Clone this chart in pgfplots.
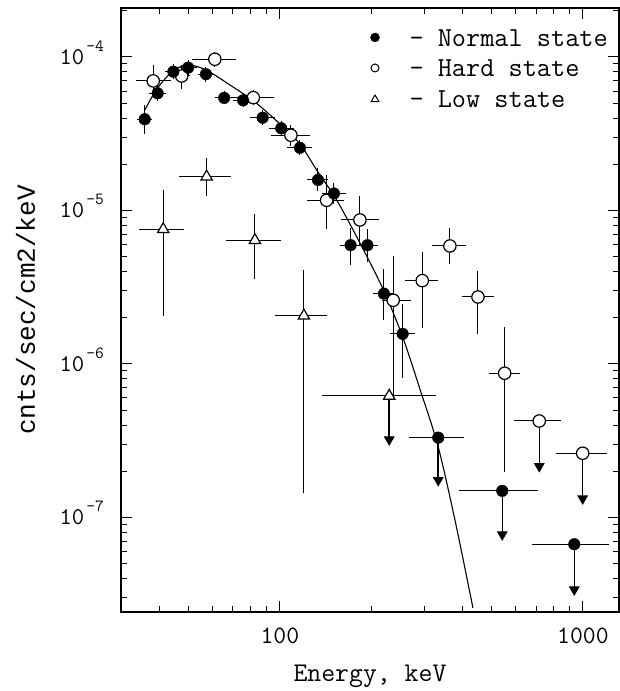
\documentclass[border=0pt]{standalone}
\usepackage{fontspec}
\usepackage{pgfplots}
\usepackage{pgfplotstable}
\pgfplotsset{compat=1.18}
\newfontfamily\lmono{Liberation Mono}
\newcommand\yl[1]{{\fontsize{24}{24}\selectfont\ttfamily 10\hspace{2pt}\raisebox{13pt}[0pt][0pt]{\fontsize{17}{17}\selectfont\ttfamily -#1}}}

% Normal state: x y xlo xhi ylo yhi
\pgfplotstableread{
x y xlo xhi ylo yhi
35.8 3.93e-5 34.5 37.2 3.28e-5 4.70e-5
39.5 5.80e-5 37.7 41.3 5.38e-5 6.25e-5
44.5 8.02e-5 42.5 46.6 7.44e-5 8.65e-5
49.8 8.52e-5 47.6 52.1 7.90e-5 9.18e-5
57.0 7.72e-5 54.5 59.7 7.16e-5 8.32e-5
65.5 5.41e-5 62.1 69.0 5.09e-5 5.75e-5
75.6 5.22e-5 71.1 80.3 4.91e-5 5.55e-5
87.7 4.02e-5 81.3 94.6 3.73e-5 4.33e-5
101 3.43e-5 93.6 109 3.18e-5 3.70e-5
116.4 2.56e-5 107.9 125.5 2.37e-5 2.76e-5
133.5 1.58e-5 125.6 141.9 1.38e-5 1.81e-5
150.8 1.29e-5 139.8 162.7 1.145e-5 1.45e-5
171.1 5.94e-6 161 182 4.57e-6 7.35e-6
194.4 5.94e-6 183 206.6 4.81e-6 7.3e-6
220.4 2.87e-6 207.4 234.2 2.0e-6 3.99e-6
254.1 1.57e-6 235.5 274 8.47e-7 2.36e-6
}\normaldata
% Normal state upper limits: x y xlo xhi yarrow
\pgfplotstableread{
x y xlo xhi ya
333 3.31e-7 272 398 1.71e-7
541.6 1.49e-7 396 698 7.58e-8
936 6.69e-8 694.6 1197 3.32e-8
}\normallim
% Hard state
\pgfplotstableread{
x y xlo xhi ylo yhi
38.2 6.98e-5 34.1 42.8 5.83e-5 8.52e-5
47.4 7.52e-5 45.3 49.6 6.41e-5 8.6e-5
61.0 9.66e-5 52.4 70.2 8.96e-5 1.04e-4
81.7 5.43e-5 71.0 93.9 5.04e-5 5.85e-5
108.7 3.09e-5 94.9 123.7 2.74e-5 3.48e-5
142.6 1.165e-5 125.6 159.8 7.84e-6 1.63e-5
183.7 8.67e-6 161.8 208.6 6.11e-6 1.20e-5
236.5 2.60e-6 222.1 265.1 6.3e-7 4.89e-6
294.9 3.49e-6 263 327 1.78e-6 5.18e-6
363.9 5.87e-6 324.9 404.9 4.64e-6 7.38e-6
450.3 2.73e-6 405 499 1.62e-6 3.9e-6
551.5 8.70e-7 499.5 607 2.04e-7 1.665e-6
}\harddata
\pgfplotstableread{
x y xlo xhi ya
717.5 4.25e-7 604 828.8 2.11e-7
997.8 2.62e-7 829 1182 1.30e-7
}\hardlim
% Low state
\pgfplotstableread{
x y xlo xhi ylo yhi
41.2 7.54e-6 35.0 47.4 2.12e-6 1.31e-5
57.3 1.66e-5 47.4 67.5 1.29e-5 2.11e-5
82.7 6.40e-6 67.5 98.7 3.69e-6 9.07e-6
120 2.06e-6 98.5 140.8 1.49e-7 3.94e-6
}\lowdata
\pgfplotstableread{
x y xlo xhi ya
229.5 6.19e-7 140.8 320.6 3.15e-7
}\lowlim
% Model curve
\pgfplotstableread{
x y
35.85 4.52e-5
39.27 6.19e-5
44.37 8.1e-5
49.7 8.87e-5
57.0 8.23e-5
68.4 6.57e-5
82.7 5.09e-5
100 3.66e-5
116.4 2.71e-5
133.5 1.78e-5
153.9 1.17e-5
183.7 6.14e-6
220.4 2.99e-6
254.7 1.48e-6
289.7 6.87e-7
332.3 2.92e-7
378.1 9.63e-8
433.5 2.57e-8
}\model

\begin{document}
\begin{tikzpicture}
\begin{axis}[
  at={(0pt,0pt)}, anchor=south west,
  scale only axis, width=498pt, height=604pt,
  xmode=log, ymode=log,
  xmin=29.9, xmax=1315, ymin=2.42e-8, ymax=2.084e-4,
  xtick={100,1000}, xticklabels={100,1000},
  minor xtick={40,50,60,70,80,90,200,300,400,500,600,700,800,900},
  ytick={1e-7,1e-6,1e-5,1e-4}, yticklabels={\yl{7},\yl{6},\yl{5},\yl{4}},
  minor ytick={3e-8,4e-8,5e-8,6e-8,7e-8,8e-8,9e-8,2e-7,3e-7,4e-7,5e-7,6e-7,7e-7,8e-7,9e-7,2e-6,3e-6,4e-6,5e-6,6e-6,7e-6,8e-6,9e-6,2e-5,3e-5,4e-5,5e-5,6e-5,7e-5,8e-5,9e-5,2e-4},
  axis line style={line width=1.5pt},
  every tick/.style={black, line width=1pt},
  major tick length=11pt, minor tick length=6pt,
  tick align=inside,
  xticklabel style={font=\fontsize{25}{25}\selectfont\ttfamily, anchor=base, yshift=-31pt, inner sep=0pt},
  yticklabel style={anchor=east, inner sep=0pt, xshift=-17pt},
  xlabel={Energy, keV},
  xlabel style={font=\fontsize{27}{27}\selectfont\ttfamily, at={(axis description cs:0.5,-0.1151)}, anchor=base},
  ylabel={cnts/sec/cm2/keV},
  ylabel style={font=\fontsize{26}{26}\selectfont\lmono, at={(axis description cs:-0.1727,0.5)}, anchor=base},
  legend style={at={(1,1)}, anchor=north east, xshift=-8pt, yshift=-16pt, draw=none, fill=none, inner sep=0pt,
    font=\fontsize{27.5}{30}\selectfont\ttfamily,
    nodes={inner xsep=3pt, inner ysep=2pt, text height=20pt, text depth=6.5pt}},
  legend cell align=left,
  error bars/error bar style={black, line width=1pt},
  error bars/error mark options={black, line width=1pt, mark size=2.5pt},
]
% legend
\addlegendimage{legend image code/.code={\path[draw=none, fill=none] (0pt,0pt) rectangle (46pt,1pt); \draw[black, mark=*, mark size=4.5pt, mark options={fill=black}] plot coordinates {(14.5pt,2pt)};}}
\addlegendentry{\textendash{} Normal state}
\addlegendimage{legend image code/.code={\path[draw=none, fill=none] (0pt,0pt) rectangle (46pt,1pt); \draw[black, mark=o, mark size=4pt, mark options={line width=1pt}] plot coordinates {(14.5pt,2pt)};}}
\addlegendentry{\textendash{} Hard state}
\addlegendimage{legend image code/.code={\path[draw=none, fill=none] (0pt,0pt) rectangle (46pt,1pt); \draw[black, mark=triangle, mark size=4.5pt, mark options={line width=1pt}] plot coordinates {(14.5pt,1pt)};}}
\addlegendentry{\textendash{} Low state}

% model curve
\addplot[black, line width=1.1pt, smooth, forget plot] table {\model};

% upper-limit arrows
\addplot[black, only marks, mark=none, forget plot,
  error bars/.cd, y dir=minus, y explicit, error mark=triangle*,
  error mark options={rotate=-90, mark size=5.5pt, fill=black, line width=0.8pt},
  error bar style={line width=1.5pt}]
  table[y error minus expr=\thisrow{y}-\thisrow{ya}] {\normallim};
\addplot[black, only marks, mark=none, forget plot,
  error bars/.cd, y dir=minus, y explicit, error mark=triangle*,
  error mark options={rotate=-90, mark size=5.5pt, fill=black, line width=0.8pt},
  error bar style={line width=1.5pt}]
  table[y error minus expr=\thisrow{y}-\thisrow{ya}] {\hardlim};
\addplot[black, only marks, mark=none, forget plot,
  error bars/.cd, y dir=minus, y explicit, error mark=triangle*,
  error mark options={rotate=-90, mark size=5.5pt, fill=black, line width=0.8pt},
  error bar style={line width=1.5pt}]
  table[y error minus expr=\thisrow{y}-\thisrow{ya}] {\lowlim};

% low state
\addplot[black, only marks, mark=triangle*, mark size=6.5pt, mark options={fill=white, line width=1.2pt}, forget plot,
  error bars/.cd, x dir=both, x explicit, y dir=both, y explicit]
  table[x error plus expr=\thisrow{xhi}-\thisrow{x}, x error minus expr=\thisrow{x}-\thisrow{xlo},
        y error plus expr=\thisrow{yhi}-\thisrow{y}, y error minus expr=\thisrow{y}-\thisrow{ylo}] {\lowdata};
\addplot[black, only marks, mark=triangle*, mark size=6.5pt, mark options={fill=white, line width=1.2pt}, forget plot,
  error bars/.cd, x dir=both, x explicit]
  table[x error plus expr=\thisrow{xhi}-\thisrow{x}, x error minus expr=\thisrow{x}-\thisrow{xlo}] {\lowlim};

% hard state
\addplot[black, only marks, mark=*, mark size=6.2pt, mark options={fill=white, line width=1.2pt}, forget plot,
  error bars/.cd, x dir=both, x explicit, y dir=both, y explicit]
  table[x error plus expr=\thisrow{xhi}-\thisrow{x}, x error minus expr=\thisrow{x}-\thisrow{xlo},
        y error plus expr=\thisrow{yhi}-\thisrow{y}, y error minus expr=\thisrow{y}-\thisrow{ylo}] {\harddata};
\addplot[black, only marks, mark=*, mark size=6.2pt, mark options={fill=white, line width=1.2pt}, forget plot,
  error bars/.cd, x dir=both, x explicit]
  table[x error plus expr=\thisrow{xhi}-\thisrow{x}, x error minus expr=\thisrow{x}-\thisrow{xlo}] {\hardlim};

% normal state
\addplot[black, only marks, mark=*, mark size=5.8pt, mark options={fill=black}, forget plot,
  error bars/.cd, x dir=both, x explicit, y dir=both, y explicit]
  table[x error plus expr=\thisrow{xhi}-\thisrow{x}, x error minus expr=\thisrow{x}-\thisrow{xlo},
        y error plus expr=\thisrow{yhi}-\thisrow{y}, y error minus expr=\thisrow{y}-\thisrow{ylo}] {\normaldata};
\addplot[black, only marks, mark=*, mark size=5.8pt, mark options={fill=black}, forget plot,
  error bars/.cd, x dir=both, x explicit]
  table[x error plus expr=\thisrow{xhi}-\thisrow{x}, x error minus expr=\thisrow{x}-\thisrow{xlo}] {\normallim};
\end{axis}
\pgfresetboundingbox
\path[use as bounding box] (-121pt,-79pt) rectangle (499pt,612pt);
\end{tikzpicture}
\end{document}
